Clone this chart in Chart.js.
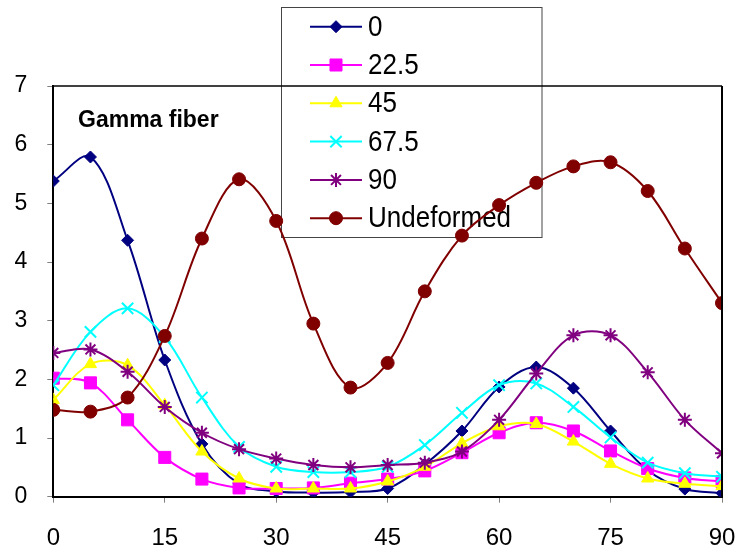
<!DOCTYPE html>
<html>
<head>
<meta charset="utf-8">
<script src="https://cdn.jsdelivr.net/npm/chart.js@4.4.0/dist/chart.umd.min.js"></script>
<style>
  html, body { margin: 0; padding: 0; background: #ffffff; }
  #chart { display: block; }
</style>
</head>
<body>
<canvas id="chart" width="740" height="556"></canvas>
<script>
// Orientation angle (degrees) along the fiber
const angles = [0, 5, 10, 15, 20, 25, 30, 35, 40, 45, 50, 55, 60, 65, 70, 75, 80, 85, 90];

const seriesLabels = ['0', '22.5', '45', '67.5', '90', 'Undeformed'];

// Intensity per sample direction
const dir0    = [5.38, 5.79, 4.37, 2.33, 0.90, 0.22, 0.09, 0.07, 0.08, 0.14, 0.55, 1.12, 1.87, 2.21, 1.85, 1.12, 0.45, 0.13, 0.06];
const dir22_5 = [2.02, 1.94, 1.31, 0.67, 0.30, 0.15, 0.14, 0.15, 0.23, 0.30, 0.44, 0.75, 1.09, 1.26, 1.12, 0.78, 0.48, 0.32, 0.26];
const dir45   = [1.65, 2.26, 2.24, 1.56, 0.77, 0.31, 0.14, 0.14, 0.14, 0.26, 0.51, 0.91, 1.20, 1.24, 0.94, 0.56, 0.31, 0.22, 0.18];
const dir67_5 = [1.90, 2.81, 3.21, 2.72, 1.69, 0.85, 0.51, 0.42, 0.42, 0.51, 0.88, 1.43, 1.90, 1.93, 1.53, 1.01, 0.58, 0.40, 0.34];
const dir90   = [2.45, 2.51, 2.13, 1.53, 1.09, 0.81, 0.65, 0.54, 0.50, 0.54, 0.58, 0.77, 1.31, 2.10, 2.75, 2.75, 2.12, 1.31, 0.74];
const undeformed = [1.48, 1.45, 1.69, 2.74, 4.40, 5.41, 4.70, 2.95, 1.86, 2.28, 3.50, 4.45, 4.97, 5.35, 5.63, 5.70, 5.21, 4.23, 3.30];

const seriesValues = [dir0, dir22_5, dir45, dir67_5, dir90, undeformed];

const FONT = "'Liberation Sans', Arial, Helvetica, sans-serif";

const styles = [
  { color: '#000080', pointStyle: 'rectRot',  radius: 6,   border: 1 },
  { color: '#FF00FF', pointStyle: 'rect',     radius: 8.5, border: 1 },
  { color: '#FFFF00', pointStyle: 'triangle', radius: 7,   border: 1 },
  { color: '#00FFFF', pointStyle: 'crossRot', radius: 8,   border: 2 },
  { color: '#800080', pointStyle: 'star',     radius: 7,   border: 2 },
  { color: '#800000', pointStyle: 'circle',   radius: 6.5, border: 1 }
];

const datasets = seriesValues.map((vals, i) => ({
  label: seriesLabels[i],
  data: angles.map((a, k) => ({ x: a, y: vals[k] })),
  borderColor: styles[i].color,
  backgroundColor: styles[i].color,
  borderWidth: 2,
  pointStyle: styles[i].pointStyle,
  pointRadius: styles[i].radius,
  pointBorderWidth: styles[i].border,
  pointBackgroundColor: styles[i].color,
  pointBorderColor: styles[i].color,
  tension: 0.35,
  fill: false,
  order: seriesLabels.length - 1 - i
}));

// Legend box, annotation and plot frame
const decorations = {
  id: 'decorations',
  beforeDatasetsDraw(chart) {
    const ctx = chart.ctx;
    ctx.save();
    // annotation
    ctx.fillStyle = '#000';
    ctx.font = 'bold 23px ' + FONT;
    ctx.textAlign = 'left';
    ctx.textBaseline = 'alphabetic';
    ctx.fillText('Gamma fiber', 78, 127);

    // legend frame
    ctx.strokeStyle = '#444';
    ctx.lineWidth = 1;
    ctx.strokeRect(281.5, 7.5, 260.5, 230);

    const rowY0 = 26.7, rowStep = 38.3;
    chart.data.datasets.forEach((ds, i) => {
      const y = rowY0 + i * rowStep;
      const st = styles[i];
      ctx.strokeStyle = st.color;
      ctx.lineWidth = 2;
      ctx.beginPath();
      ctx.moveTo(310, y);
      ctx.lineTo(362, y);
      ctx.stroke();
      ctx.fillStyle = st.color;
      ctx.strokeStyle = st.color;
      ctx.lineWidth = st.border;
      Chart.helpers.drawPoint(ctx, {
        pointStyle: st.pointStyle, radius: st.radius, rotation: 0, borderWidth: st.border
      }, 336, y);

      ctx.save();
      ctx.translate(368, y);
      ctx.scale(1, 1.12);
      ctx.fillStyle = '#000';
      ctx.font = '26px ' + FONT;
      ctx.textAlign = 'left';
      ctx.textBaseline = 'middle';
      ctx.fillText(ds.label, 0, 1);
      ctx.restore();
    });
    ctx.restore();
  },
  afterDraw(chart) {
    const { ctx, chartArea } = chart;
    ctx.save();
    ctx.strokeStyle = '#000';
    ctx.lineWidth = 1.5;
    ctx.beginPath();
    ctx.moveTo(chartArea.left, chartArea.top);
    ctx.lineTo(chartArea.right, chartArea.top);
    ctx.stroke();
    ctx.lineWidth = 2;
    ctx.beginPath();
    ctx.moveTo(chartArea.right, chartArea.top);
    ctx.lineTo(chartArea.right, chartArea.bottom);
    ctx.stroke();
    ctx.restore();
  }
};

new Chart(document.getElementById('chart'), {
  type: 'line',
  data: { datasets },
  options: {
    responsive: false,
    animation: false,
    devicePixelRatio: 1,
    layout: { padding: { left: 0, top: 86, right: 18, bottom: 0 } },
    plugins: {
      legend: { display: false },
      tooltip: { enabled: false },
      title: { display: false }
    },
    scales: {
      x: {
        type: 'linear',
        min: 0,
        max: 90,
        afterFit(scale) {
          scale.height = 59.3;
          scale.paddingLeft = 0;
          scale.paddingRight = 0;
        },
        ticks: {
          stepSize: 15,
          color: '#000',
          padding: 21,
          maxRotation: 0,
          font: { family: FONT, size: 24 }
        },
        grid: { drawOnChartArea: false, drawTicks: true, tickLength: 6, color: '#808080', lineWidth: 1 },
        border: { display: true, color: '#000', width: 2 }
      },
      y: {
        min: 0,
        max: 7,
        afterFit(scale) {
          scale.width = 53.3;
          scale.paddingTop = 0;
          scale.paddingBottom = 0;
        },
        ticks: {
          stepSize: 1,
          color: '#000',
          padding: 20,
          font: { family: FONT, size: 23 }
        },
        grid: { drawOnChartArea: false, drawTicks: true, tickLength: 6, color: '#808080', lineWidth: 1 },
        border: { display: true, color: '#000', width: 2 }
      }
    }
  },
  plugins: [decorations]
});
</script>
</body>
</html>
